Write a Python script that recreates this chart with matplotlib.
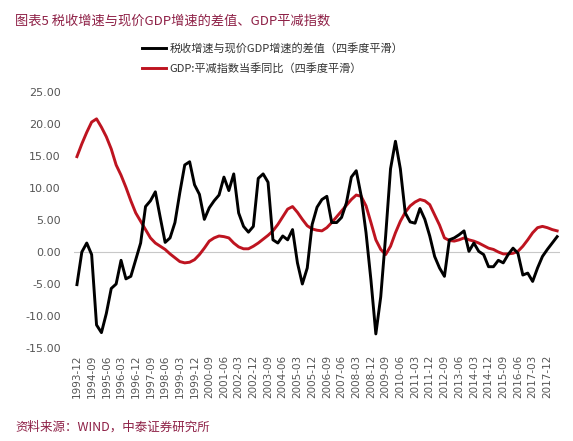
import matplotlib
matplotlib.use("Agg")
import matplotlib.pyplot as plt
import pandas as pd

plt.rcParams['font.family'] = ['Noto Sans CJK SC', 'DejaVu Sans']

# quarterly categories 1993-12 .. 2018-06
quarters = [p.strftime('%Y-%m') for p in pd.period_range('1993Q4', '2018Q2', freq='Q').to_timestamp(how='end')]

tax_gap = [-5.1, 0.0, 1.4, -0.4, -11.4, -12.6, -9.6, -5.7, -5.0, -1.3,
           -4.2, -3.8, -1.2, 1.4, 7.1, 8.0, 9.4, 5.4, 1.5, 2.2,
           4.6, 9.3, 13.6, 14.1, 10.5, 9.0, 5.1, 6.9, 8.0, 8.9,
           11.7, 9.6, 12.2, 6.1, 4.0, 3.1, 4.0, 11.5, 12.2, 10.9,
           1.9, 1.4, 2.5, 1.9, 3.5, -1.7, -5.0, -2.5, 4.3, 7.0,
           8.2, 8.7, 4.6, 4.6, 5.4, 7.7, 11.7, 12.7, 8.8, 3.0,
           -4.4, -12.8, -7.0, 2.5, 13.0, 17.3, 13.0, 6.1, 4.7, 4.5,
           6.8, 5.1, 2.5, -0.7, -2.5, -3.8, 1.9, 2.2, 2.7, 3.3,
           0.1, 1.4, 0.1, -0.4, -2.3, -2.3, -1.3, -1.7, -0.4, 0.6,
           -0.2, -3.6, -3.3, -4.6, -2.5, -0.7, 0.4, 1.4, 2.4]

deflator = [14.9, 16.9, 18.7, 20.3, 20.8, 19.5, 18.0, 16.1, 13.6, 12.0,
            10.1, 8.0, 6.1, 4.8, 3.5, 2.2, 1.4, 0.9, 0.4, -0.3,
            -0.9, -1.5, -1.7, -1.6, -1.2, -0.4, 0.6, 1.7, 2.2, 2.5,
            2.4, 2.2, 1.4, 0.8, 0.5, 0.5, 0.9, 1.4, 2.0, 2.6,
            3.3, 4.3, 5.5, 6.7, 7.1, 6.2, 5.1, 4.1, 3.6, 3.4,
            3.3, 3.8, 4.6, 5.5, 6.4, 7.3, 8.2, 8.9, 8.7, 7.2,
            4.6, 1.9, 0.4, -0.4, 0.9, 3.0, 4.8, 6.2, 7.2, 7.8,
            8.2, 8.0, 7.4, 5.8, 4.2, 2.2, 1.8, 1.7, 1.9, 2.2,
            1.9, 1.7, 1.4, 1.0, 0.6, 0.4, 0.0, -0.3, -0.3, -0.2,
            0.1, 0.9, 1.9, 3.0, 3.8, 4.0, 3.8, 3.5, 3.3]

label_gap = '税收增速与现价GDP增速的差值（四季度平滑）'
label_defl = 'GDP:平减指数当季同比（四季度平滑）'
title = '图表5 税收增速与现价GDP增速的差值、GDP平减指数'
source = '资料来源：WIND，中泰证券研究所'
yticks = [-15, -10, -5, 0, 5, 10, 15, 20, 25]

title_color = '#8E2046'
red = '#BE1420'

fig = plt.figure(figsize=(5.73, 4.41), dpi=100)
ax = fig.add_axes([0.130, 0.2109, 0.8466, 0.5805])

x = list(range(len(quarters)))
ax.axhline(0, color='#c8c8c8', lw=0.8, zorder=1)
l1, = ax.plot(x, tax_gap, color='black', lw=2.1, zorder=3, solid_joinstyle='round')
l2, = ax.plot(x, deflator, color=red, lw=2.1, zorder=2, solid_joinstyle='round')

ax.set_xlim(-0.5, len(quarters) - 0.5)
ax.set_ylim(-15, 25)
ax.set_yticks(yticks)
ax.set_yticklabels([f'{v:.2f}' for v in yticks], family='DejaVu Sans')
ax.set_xticks(x[::3])
ax.set_xticklabels(quarters[::3], rotation=90, family='DejaVu Sans')
ax.tick_params(axis='y', length=0, pad=10, labelsize=8, labelcolor='#555555')
ax.tick_params(axis='x', length=0, pad=5, labelsize=7.5, labelcolor='#555555')
for s in ax.spines.values():
    s.set_visible(False)

fig.legend([l1, l2], [label_gap, label_defl], loc='upper left',
           bbox_to_anchor=(142 / 573, 1 - 43 / 441), frameon=False,
           fontsize=8, handlelength=2.2, handletextpad=0.25,
           labelspacing=0.85, borderaxespad=0, borderpad=0,
           labelcolor='#333333')

fig.text(15 / 573, 1 - 21 / 441, title, fontsize=9.5, color=title_color, va='center', ha='left')
fig.text(15 / 573, 1 - 427 / 441, source, fontsize=9, color=title_color, va='center', ha='left')

fig.savefig('out.png', dpi=100, facecolor='white')
